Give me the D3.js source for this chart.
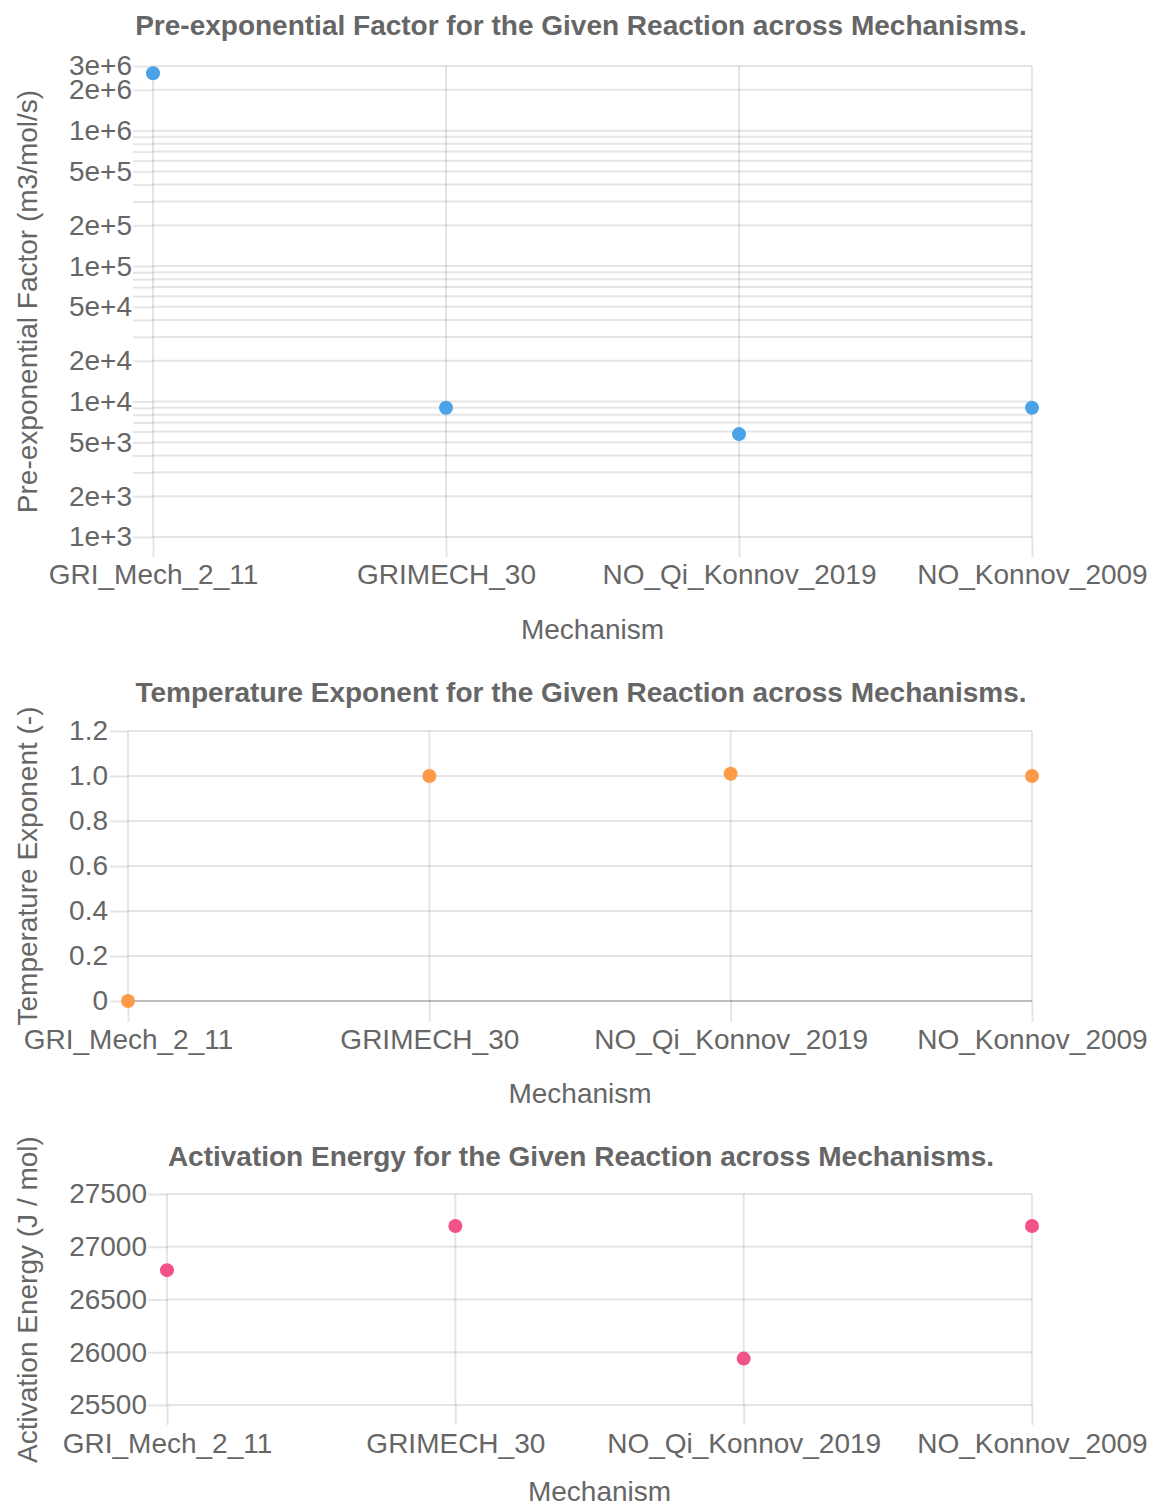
<!DOCTYPE html>
<html>
<head>
<meta charset="utf-8">
<script src="https://cdn.jsdelivr.net/npm/d3@7/dist/d3.min.js"></script>
<style>
  html, body { margin: 0; padding: 0; background: #fff; }
  svg { display: block; }
  text { font-family: "Liberation Sans", Arial, Helvetica, sans-serif; fill: #666; }
</style>
</head>
<body>
<svg id="chart" width="1153" height="1509"></svg>
<script>
// Kinetic parameters of one reaction in four mechanisms
const mechanisms = ["GRI_Mech_2_11", "GRIMECH_30", "NO_Qi_Konnov_2019", "NO_Konnov_2009"];
const preExponentialFactor = [2.65e6, 9.0e3, 5.75e3, 9.0e3];   // m3/mol/s
const temperatureExponent = [0, 1.0, 1.01, 1.0];                // -
const activationEnergy = [26778, 27196, 25940, 27196];          // J / mol

// Axis ranges and tick values
const preExpDomain = [1e3, 3e6];
const tempExpTicks = [0, 0.2, 0.4, 0.6, 0.8, 1.0, 1.2];
const actEnergyTicks = [25500, 26000, 26500, 27000, 27500];

const svg = d3.select("#chart");
const FONT = 28;
const GRID = "rgba(0,0,0,0.1)";

function drawPanel(cfg) {
  const g = svg.append("g");
  const x = d3.scalePoint().domain(mechanisms).range([cfg.left, cfg.right]).padding(0);
  const y = cfg.y;

  // title
  g.append("text")
    .attr("x", 581).attr("y", cfg.titleY)
    .attr("text-anchor", "middle")
    .style("font-size", FONT + "px").style("font-weight", "bold")
    .text(cfg.title);

  // horizontal grid lines
  g.append("g").selectAll("line").data(cfg.yTicks).join("line")
    .attr("x1", cfg.left).attr("x2", cfg.right)
    .attr("y1", d => y(d)).attr("y2", d => y(d))
    .attr("stroke", d => (cfg.zeroLine && d === 0) ? "rgba(0,0,0,0.25)" : GRID)
    .attr("stroke-width", 2);

  // vertical grid lines
  g.append("g").selectAll("line").data(mechanisms).join("line")
    .attr("x1", d => x(d)).attr("x2", d => x(d))
    .attr("y1", cfg.top).attr("y2", cfg.bottom)
    .attr("stroke", GRID).attr("stroke-width", 2);

  // y axis
  const yAxis = d3.axisLeft(y)
    .tickValues(cfg.yTicks)
    .tickSize(cfg.yTickLen)
    .tickPadding(cfg.yPad)
    .tickFormat(cfg.yFormat);
  const ya = g.append("g").attr("transform", `translate(${cfg.left},0)`).call(yAxis);
  ya.select(".domain").remove();
  ya.selectAll(".tick line").attr("stroke", GRID).attr("stroke-width", 2);
  ya.selectAll(".tick text").style("font-size", FONT + "px").attr("fill", "#666")
    .style("font-family", '"Liberation Sans", Arial, sans-serif');

  // x axis
  const xAxis = d3.axisBottom(x).tickSize(cfg.xTickLen).tickPadding(cfg.xPad);
  const xa = g.append("g").attr("transform", `translate(0,${cfg.bottom})`).call(xAxis);
  xa.select(".domain").remove();
  xa.selectAll(".tick line").attr("stroke", GRID).attr("stroke-width", 2);
  xa.selectAll(".tick text").style("font-size", FONT + "px").attr("fill", "#666")
    .style("font-family", '"Liberation Sans", Arial, sans-serif');

  // axis titles
  g.append("text")
    .attr("x", (cfg.left + cfg.right) / 2).attr("y", cfg.xTitleY)
    .attr("text-anchor", "middle").style("font-size", FONT + "px")
    .text("Mechanism");
  g.append("text")
    .attr("transform", `translate(37,${(cfg.top + cfg.bottom) / 2}) rotate(-90)`)
    .attr("text-anchor", "middle").style("font-size", FONT + "px")
    .text(cfg.yTitle);

  // data points
  g.append("g").selectAll("circle").data(cfg.values).join("circle")
    .attr("cx", (d, i) => x(mechanisms[i]))
    .attr("cy", d => y(d))
    .attr("r", 7)
    .attr("fill", cfg.color);
}

// Pre-exponential factor, logarithmic axis
const yPre = d3.scaleLog().domain(preExpDomain).range([537, 66]);
drawPanel({
  title: "Pre-exponential Factor for the Given Reaction across Mechanisms.",
  titleY: 35,
  left: 153, right: 1032, top: 66, bottom: 537,
  y: yPre,
  yTicks: yPre.ticks(),
  yFormat: d => {
    const m = Math.round(d / Math.pow(10, Math.floor(Math.log10(d) + 1e-9)));
    return (m === 1 || m === 2 || m === 5 || d === preExpDomain[1]) ? d3.format(".0e")(d) : "";
  },
  yTickLen: 20, yPad: 1,
  xTickLen: 20, xPad: 7,
  xTitleY: 639,
  yTitle: "Pre-exponential Factor (m3/mol/s)",
  values: preExponentialFactor,
  color: "#4aa3e8"
});

// Temperature exponent, linear axis
const yTemp = d3.scaleLinear().domain([0, 1.2]).range([1001, 731]);
drawPanel({
  title: "Temperature Exponent for the Given Reaction across Mechanisms.",
  titleY: 702,
  left: 128, right: 1032, top: 731, bottom: 1001,
  y: yTemp,
  yTicks: tempExpTicks,
  yFormat: d => d === 0 ? "0" : d3.format(".1f")(d),
  yTickLen: 18, yPad: 2,
  xTickLen: 21, xPad: 7,
  xTitleY: 1103,
  yTitle: "Temperature Exponent (-)",
  zeroLine: true,
  values: temperatureExponent,
  color: "#fd9a48"
});

// Activation energy, linear axis
const yAct = d3.scaleLinear().domain([25500, 27500]).range([1405, 1194]);
drawPanel({
  title: "Activation Energy for the Given Reaction across Mechanisms.",
  titleY: 1166,
  left: 167, right: 1032, top: 1194, bottom: 1405,
  y: yAct,
  yTicks: actEnergyTicks,
  yFormat: d => String(d),
  yTickLen: 19, yPad: 1,
  xTickLen: 20, xPad: 8,
  xTitleY: 1501,
  yTitle: "Activation Energy (J / mol)",
  values: activationEnergy,
  color: "#f2528a"
});
</script>
</body>
</html>
